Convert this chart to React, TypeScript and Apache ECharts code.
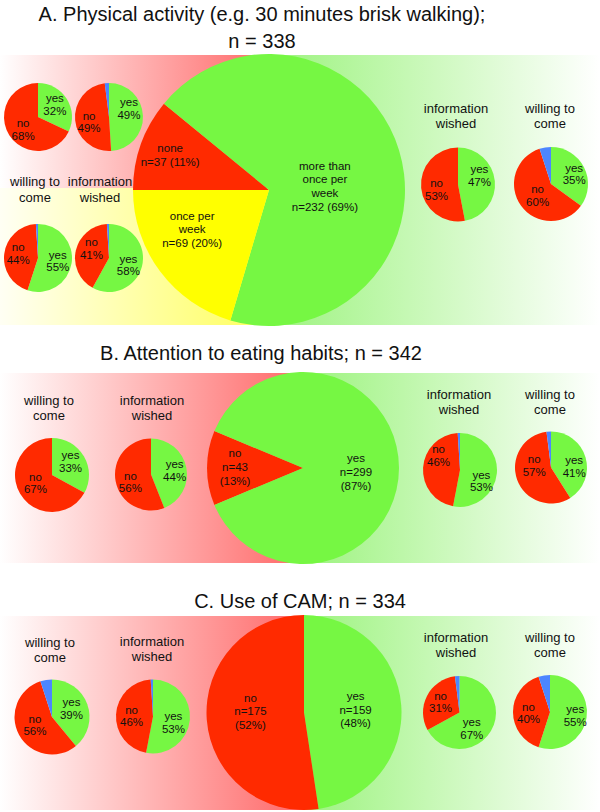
import React, { useEffect, useRef } from "react";
import * as echarts from "echarts";

const FONT = '"Liberation Sans", Arial, Helvetica, sans-serif';
const RED = "#ff2a00";
const GREEN = "#76f743";
const YELLOW = "#ffff00";
const BLUE = "#4c86ff";

// ---- texts ----
const panelTitles = [
  "A. Physical activity (e.g. 30 minutes brisk walking);\nn = 338",
  "B. Attention to eating habits; n = 342",
  "C. Use of CAM; n = 334",
];
const willingLabel = "willing to\ncome";
const infoLabel = "information\nwished";
const smallNames = ["yes", "no", "unknown"];

// ---- main pies (counts) ----
const aMainNames = ["none", "more than\nonce per\nweek", "once per\nweek"];
const aMainCounts = [37, 232, 69];
const bMainNames = ["no", "yes"];
const bMainCounts = [43, 299];
const cMainNames = ["yes", "no"];
const cMainCounts = [159, 175];

// ---- small pies (% yes, % no, % unknown) ----
const aNoneWilling = [32, 68, 0];
const aNoneInfo = [49, 49, 2];
const aOnceWilling = [55, 44, 1];
const aOnceInfo = [58, 41, 1];
const aMoreInfo = [47, 53, 0];
const aMoreWilling = [35, 60, 5];
const bNoWilling = [33, 67, 0];
const bNoInfo = [44, 56, 0];
const bYesInfo = [53, 46, 1];
const bYesWilling = [41, 57, 2];
const cNoWilling = [39, 56, 5];
const cNoInfo = [53, 46, 1];
const cYesInfo = [67, 31, 2];
const cYesWilling = [55, 40, 5];

function smallPie(values: number[], cx: number, cy: number, r: number, offs: number[][]) {
  const cols = [GREEN, RED, BLUE];
  const data = values
    .map((v, i) => ({
      name: smallNames[i],
      value: v,
      itemStyle: { color: cols[i] },
      label: { show: i < 2 },
      _i: i,
    }))
    .filter((d) => d.value > 0);
  return {
    type: "pie",
    silent: true,
    center: [cx, cy],
    radius: r,
    startAngle: 90,
    clockwise: true,
    avoidLabelOverlap: false,
    itemStyle: { borderWidth: 0 },
    emphasis: { disabled: true },
    labelLine: { show: false },
    label: {
      position: "inside",
      formatter: (p: any) => `${p.name}\n${p.value}%`,
      fontFamily: FONT,
      fontSize: 11.5,
      lineHeight: 12.5,
      color: "#111",
    },
    labelLayout: (p: any) => {
      const o = offs[p.dataIndex] || [0, 0];
      return { dx: o[0], dy: o[1] };
    },
    data: data.map(({ _i, ...rest }) => rest),
  };
}

function mainPie(
  names: string[],
  counts: number[],
  colors: string[],
  cx: number,
  cy: number,
  r: number,
  startAngle: number,
  brokenPct: boolean,
  offs: number[][]
) {
  return {
    type: "pie",
    silent: true,
    center: [cx, cy],
    radius: r,
    startAngle,
    clockwise: true,
    avoidLabelOverlap: false,
    itemStyle: { borderWidth: 0 },
    emphasis: { disabled: true },
    labelLine: { show: false },
    label: {
      position: "inside",
      formatter: (p: any) =>
        `${p.name}\nn=${p.value}${brokenPct ? "\n" : " "}(${Math.round(p.percent)}%)`,
      fontFamily: FONT,
      fontSize: 11.5,
      lineHeight: 13.7,
      color: "#111",
    },
    labelLayout: (p: any) => {
      const o = offs[p.dataIndex] || [0, 0];
      return { dx: o[0], dy: o[1] };
    },
    data: names.map((n, i) => ({ name: n, value: counts[i], itemStyle: { color: colors[i] } })),
  };
}

function grad(c0: string, c1: string) {
  return new echarts.graphic.LinearGradient(0, 0, 1, 0, [
    { offset: 0, color: c0 },
    { offset: 1, color: c1 },
  ]);
}

function bg(x: number, y: number, w: number, h: number, fill: any) {
  return { type: "rect", z: 0, silent: true, shape: { x, y, width: w, height: h }, style: { fill } };
}

function txt(text: string, x: number, y: number, size: number, lh: number) {
  return {
    type: "text",
    z: 10,
    silent: true,
    x,
    y,
    style: {
      text,
      fill: "#111",
      font: `${size}px ${FONT}`,
      lineHeight: lh,
      align: "center",
      verticalAlign: "middle",
    },
  };
}

export default function App() {
  const ref = useRef<HTMLDivElement>(null);
  useEffect(() => {
    if (!ref.current) return;
    const chart = echarts.init(ref.current, undefined, { renderer: "svg" });
    const redG = grad("#ffffff", "#ff6868");
    const yelG = grad("#fffff4", "#ffff5c");
    const greenG = () => grad("#9cf37e", "#ffffff");
    chart.setOption({
      animation: false,
      backgroundColor: "#ffffff",
      graphic: [
        // panel A backgrounds
        bg(0, 55, 269, 133, redG),
        bg(0, 188, 269, 137, yelG),
        bg(269, 55, 331, 270, greenG()),
        // panel B
        bg(0, 373, 303, 190, grad("#ffffff", "#ff6868")),
        bg(303, 373, 297, 190, greenG()),
        // panel C
        bg(0, 616, 304, 194, grad("#ffffff", "#ff6868")),
        bg(304, 616, 296, 194, greenG()),
        // titles
        txt(panelTitles[0], 262, 27, 20, 27),
        txt(panelTitles[1], 261, 353, 20, 24),
        txt(panelTitles[2], 300, 601, 20, 24),
        // sub labels A
        txt(willingLabel, 35, 189, 13, 16),
        txt(infoLabel, 100, 189, 13, 16),
        txt(infoLabel, 456, 115.5, 13, 15),
        txt(willingLabel, 550, 115.5, 13, 15),
        // sub labels B
        txt(willingLabel, 49, 407.5, 13, 15),
        txt(infoLabel, 152, 407.5, 13, 15),
        txt(infoLabel, 459, 401.5, 13, 15),
        txt(willingLabel, 550, 401.5, 13, 15),
        // sub labels C
        txt(willingLabel, 50, 650, 13, 15.5),
        txt(infoLabel, 152, 649, 13, 15),
        txt(infoLabel, 456, 644.5, 13, 15),
        txt(willingLabel, 550, 644.5, 13, 15),
      ],
      series: [
        mainPie(aMainNames, aMainCounts, [RED, GREEN, YELLOW], 269, 190, 136, 180, false, [
          [-32, -11],
          [-12, 17],
          [-20, -3],
        ]),
        smallPie(aNoneWilling, 38, 117, 34, [[0, -2], [2, 2]]),
        smallPie(aNoneInfo, 109, 117, 34, [[0, -8], [0, 3]]),
        smallPie(aOnceWilling, 38, 258, 34, [[0, 0], [0, -2]]),
        smallPie(aOnceInfo, 109, 258, 34, [[0, 2], [2, -5]]),
        smallPie(aMoreInfo, 458, 184.5, 37, [[0, -7], [0, 3]]),
        smallPie(aMoreWilling, 551, 184, 37, [[4, 0], [4, -1]]),

        mainPie(bMainNames, bMainCounts, [RED, GREEN], 303, 468, 96, 180 + (43 / 342) * 180, true, [
          [-17, -1],
          [2, 4],
        ]),
        smallPie(bNoWilling, 52, 475, 37, [[0, -2.5], [2, -3]]),
        smallPie(bNoInfo, 151, 474.5, 36, [[3, 0], [0, 3.5]]),
        smallPie(bYesInfo, 460, 470, 37, [[0, 9], [0, -13]]),
        smallPie(bYesWilling, 551, 467.5, 36, [[3, 5], [3, -9]]),

        mainPie(cMainNames, cMainCounts, [GREEN, RED], 304, 712.5, 97.5, 90, true, [
          [0, 1],
          [-2, -5],
        ]),
        smallPie(cNoWilling, 52, 717, 37.5, [[-1, -1], [2, -2.5]]),
        smallPie(cNoInfo, 153, 716.5, 37, [[-1, 4], [0, 1]]),
        smallPie(cYesInfo, 459.5, 712.5, 36.5, [[-6, 5], [0, -1]]),
        smallPie(cYesWilling, 550, 712, 37, [[4, 0], [0, 1]]),
      ],
    });
    return () => chart.dispose();
  }, []);
  return (
    <div
      ref={ref}
      style={{ position: "fixed", left: 0, top: 0, width: 600, height: 812, background: "#fff" }}
    />
  );
}
